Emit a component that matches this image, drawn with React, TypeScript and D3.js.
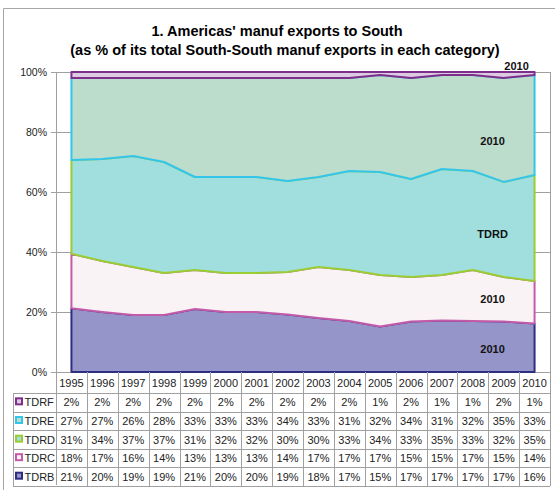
import React, { useEffect, useRef } from 'react';
import * as d3 from 'd3';

const years = ['1995', '1996', '1997', '1998', '1999', '2000', '2001', '2002',
  '2003', '2004', '2005', '2006', '2007', '2008', '2009', '2010'];

// bottom to top in the stack
const seriesNames = ['TDRB', 'TDRC', 'TDRD', 'TDRE', 'TDRF'];
const tdrb = [21, 20, 19, 19, 21, 20, 20, 19, 18, 17, 15, 17, 17, 17, 17, 16];
const tdrc = [18, 17, 16, 14, 13, 13, 13, 14, 17, 17, 17, 15, 15, 17, 15, 14];
const tdrd = [31, 34, 37, 37, 31, 32, 32, 30, 30, 33, 34, 33, 35, 33, 32, 35];
const tdre = [27, 27, 26, 28, 33, 33, 33, 34, 33, 31, 32, 34, 31, 32, 35, 33];
const tdrf = [2, 2, 2, 2, 2, 2, 2, 2, 2, 2, 1, 2, 1, 1, 2, 1];

const fills = ['#9595c9', '#f9f3f6', '#a1dede', '#bcdccc', '#dccbe3'];
const strokes = ['#2e2e80', '#c35ba9', '#9acd32', '#33c6ea', '#7e2f8c'];

const yTicks = [0, 0.2, 0.4, 0.6, 0.8, 1];

// data labels: text, share of the stack where it sits (at the 2010 point)
const labelTexts = ['2010', '2010', 'TDRD', '2010', '2010'];
const labelPos = [0.077, 0.245, 0.46, 0.77, 1.02];

const W = 555;
const H = 490;

export default function App() {
  const ref = useRef<SVGSVGElement>(null);

  useEffect(() => {
    const svg = d3.select(ref.current);
    svg.selectAll('*').remove();

    const left = 56, right = 550, top = 72, bottom = 372;
    const font = 'Liberation Sans, Arial, sans-serif';

    const values = [tdrb, tdrc, tdrd, tdre, tdrf];
    const rows = years.map((yr, i) => {
      const r: any = { year: yr };
      seriesNames.forEach((s, k) => { r[s] = values[k][i]; });
      return r;
    });
    const stack = d3.stack().keys(seriesNames).offset(d3.stackOffsetExpand)(rows);

    const x = d3.scaleBand().domain(years).range([left, right]);
    const bw = x.bandwidth();
    const cx = (yr: string) => (x(yr) as number) + bw / 2;
    const y = d3.scaleLinear().domain([0, 1]).range([bottom, top]);

    // outer frame
    svg.append('path').attr('d', `M3.5,${H}V8.5H${W}`)
      .attr('fill', 'none').attr('stroke', '#a6a6a6');

    // title
    const title = svg.append('g').attr('font-family', font).attr('font-weight', 'bold')
      .attr('font-size', 14.5).attr('fill', '#000').attr('text-anchor', 'middle');
    title.append('text').attr('x', 277).attr('y', 36).text("1. Americas' manuf exports to South");
    title.append('text').attr('x', 285).attr('y', 55)
      .text('(as % of its total South-South manuf exports in each category)');

    // gridlines
    svg.append('g').selectAll('line').data(yTicks).enter().append('line')
      .attr('x1', left - 5).attr('x2', right)
      .attr('y1', d => Math.round(y(d)) + 0.5).attr('y2', d => Math.round(y(d)) + 0.5)
      .attr('stroke', '#a0a0a0');
    svg.append('line').attr('x1', right + 0.5).attr('x2', right + 0.5)
      .attr('y1', top).attr('y2', bottom).attr('stroke', '#a0a0a0');

    // areas
    const area = d3.area<any>()
      .x(d => cx(d.data.year))
      .y0(d => y(d[0]))
      .y1(d => y(d[1]));
    svg.append('g').selectAll('path').data(stack).enter().append('path')
      .attr('d', d => area(d as any) + 'Z')
      .attr('fill', (d, i) => fills[i])
      .attr('stroke', (d, i) => strokes[i])
      .attr('stroke-width', 2)
      .attr('stroke-linejoin', 'round');

    // y axis
    svg.append('line').attr('x1', left + 0.5).attr('x2', left + 0.5)
      .attr('y1', top).attr('y2', 485).attr('stroke', '#a0a0a0');
    svg.append('g').selectAll('text').data(yTicks).enter().append('text')
      .attr('x', 47).attr('y', d => y(d) + 4)
      .attr('text-anchor', 'end').attr('font-family', font).attr('font-size', 10.5)
      .attr('fill', '#222').text(d => d3.format('.0%')(d));

    // data labels
    svg.append('g').selectAll('text').data(labelTexts).enter().append('text')
      .attr('x', (d, i) => i === 4 ? cx('2010') - 18 : cx('2010') - 42)
      .attr('y', (d, i) => y(labelPos[i]) + 4)
      .attr('text-anchor', 'middle').attr('font-family', font).attr('font-weight', 'bold')
      .attr('font-size', 11).attr('fill', '#111').text(d => d);

    // data table
    const rowTop = [372, 393, 411.7, 430.3, 449, 467.4, 486];
    const tbl = svg.append('g').attr('stroke', '#a0a0a0').attr('fill', 'none');
    rowTop.slice(1).forEach(ry => {
      tbl.append('line').attr('x1', 13).attr('x2', right).attr('y1', Math.round(ry) + 0.5)
        .attr('y2', Math.round(ry) + 0.5);
    });
    tbl.append('line').attr('x1', 13.5).attr('x2', 13.5).attr('y1', 393).attr('y2', 486);
    years.forEach(yr => {
      const xx = Math.round((x(yr) as number) + bw) + 0.5;
      tbl.append('line').attr('x1', xx).attr('x2', xx).attr('y1', bottom).attr('y2', 486);
    });

    const txt = svg.append('g').attr('font-family', font).attr('font-size', 11).attr('fill', '#222');
    years.forEach(yr => {
      txt.append('text').attr('x', cx(yr)).attr('y', 387).attr('text-anchor', 'middle').text(yr);
    });
    const tableOrder = [4, 3, 2, 1, 0];
    tableOrder.forEach((k, r) => {
      const ym = (rowTop[r + 1] + rowTop[r + 2]) / 2;
      svg.append('rect').attr('x', 16).attr('y', ym - 4).attr('width', 6).attr('height', 6)
        .attr('fill', fills[k]).attr('stroke', strokes[k]).attr('stroke-width', 2);
      txt.append('text').attr('x', 24.5).attr('y', ym + 4).text(seriesNames[k]);
      years.forEach((yr, i) => {
        txt.append('text').attr('x', cx(yr)).attr('y', ym + 4).attr('text-anchor', 'middle')
          .text(values[k][i] + '%');
      });
    });
  }, []);

  return (
    <svg ref={ref} width={W} height={H}
      style={{ position: 'absolute', left: 0, top: 0, background: '#fff' }} />
  );
}
